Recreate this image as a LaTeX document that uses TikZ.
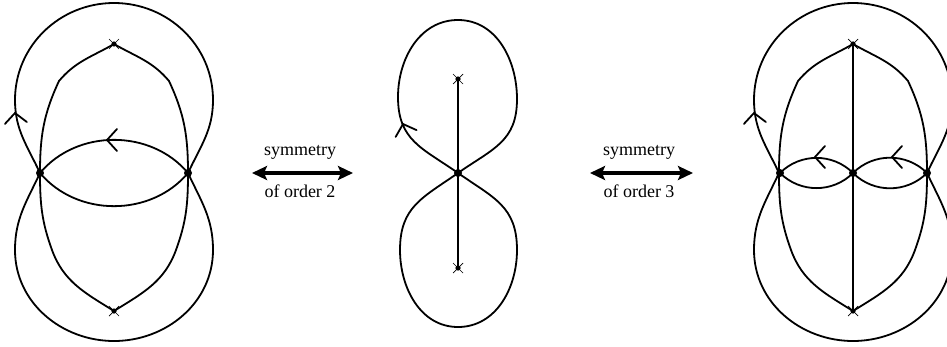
\documentclass[tikz,border=0pt]{standalone}
\usepackage{fontspec}
\setmainfont{Liberation Serif}
\usepackage{tikz}
\usetikzlibrary{arrows.meta}

\begin{document}
\begin{tikzpicture}[x=1pt, y=1pt, line width=1.8pt, >={Stealth[length=15pt, width=14pt, inset=3pt]},
    vertex/.style={circle, fill, inner sep=0pt, minimum size=8pt},
    label/.style={font=\fontsize{18}{20}\selectfont, inner sep=0pt},
    zero/.pic={\fill (0,0) circle (2.6); \draw[line width=0.7pt] (-5,-5) -- (5,5) (-5,5) -- (5,-5);},
    chev/.pic={\draw[line cap=round] (-10,11) -- (0,0) -- (-10,-11);}]
    \useasboundingbox (0,-173) rectangle (947,173);
    \clip (0,-173) rectangle (947,173);

    % outer and inner curves of the two side graphs
    \foreach \cx in {114,853} {
        \begin{scope}[xshift=\cx pt]
            \draw (-74,0) to[out=115,in=-90] (-99,73) to[out=90,in=180] (0,170) to[out=0,in=90] (99,73)
                to[out=-90,in=65] (74,0) to[out=-65,in=90] (99,-77) to[out=-90,in=0] (0,-168)
                to[out=180,in=-90] (-99,-77) to[out=90,in=-115] (-74,0);
            \draw (0,129) to[out=-150,in=50] (-55,92) to[out=-115,in=90] (-74,0) to[out=-90,in=110] (-62,-77)
                to[out=-70,in=148] (0,-138) to[out=32,in=-110] (62,-77) to[out=70,in=-90] (74,0)
                to[out=90,in=-65] (55,92) to[out=130,in=-30] (0,129);
            \pic[rotate=95] at (-99,60) {chev};
            \pic at (0,129) {zero};
            \pic at (0,-138) {zero};
        \end{scope}
    }

    % left graph
    \draw (40,0) to[out=50,in=130] (188,0) to[out=-130,in=-50] (40,0);
    \pic[rotate=180] at (107,33) {chev};
    \node[vertex] (l1) at (40,0) {};
    \node[vertex] (r1) at (188,0) {};

    % middle graph
    \begin{scope}[xshift=458pt]
        \draw (0,0) to[out=145,in=-90,looseness=1.15] (-60,76) to[out=90,in=180] (0,153)
            to[out=0,in=90] (59,74) to[out=-90,in=35,looseness=1.15] (0,0);
        \draw (0,0) to[out=-145,in=90,looseness=1.15] (-58,-77) to[out=-90,in=180] (0,-154)
            to[out=0,in=-90] (59,-77) to[out=90,in=-35,looseness=1.15] (0,0);
        \pic[rotate=108] at (-55,49) {chev};
    \end{scope}
    \coordinate (t2) at (458,94);
    \coordinate (b2) at (458,-95);
    \draw (t2) -- (b2);
    \pic at (t2) {zero};
    \pic at (b2) {zero};
    \node[vertex] (m2) at (458,0) {};

    % right graph
    \draw (780,0) to[out=45,in=135] (853,0) to[out=-135,in=-45] (780,0);
    \draw (853,0) to[out=45,in=135] (927,0) to[out=-135,in=-45] (853,0);
    \pic[rotate=180] at (815,16) {chev};
    \pic[rotate=180] at (892,16) {chev};
    \coordinate (t3) at (853,129);
    \coordinate (b3) at (853,-138);
    \draw (t3) -- (b3);
    \node[vertex] (l3) at (780,0) {};
    \node[vertex] (m3) at (853,0) {};
    \node[vertex] (r3) at (927,0) {};

    % symmetries
    \coordinate (s2a) at (252,0);
    \coordinate (s2b) at (353,0);
    \draw[<->, line width=3.6pt] (s2a) -- (s2b);
    \node[label] (sym2) at (300,21) {symmetry};
    \node[label] (ord2) at (300,-18) {of order 2};
    \coordinate (s3a) at (590,0);
    \coordinate (s3b) at (693,0);
    \draw[<->, line width=3.6pt] (s3a) -- (s3b);
    \node[label] (sym3) at (639,21) {symmetry};
    \node[label] (ord3) at (639,-18) {of order 3};
\end{tikzpicture}
\end{document}
